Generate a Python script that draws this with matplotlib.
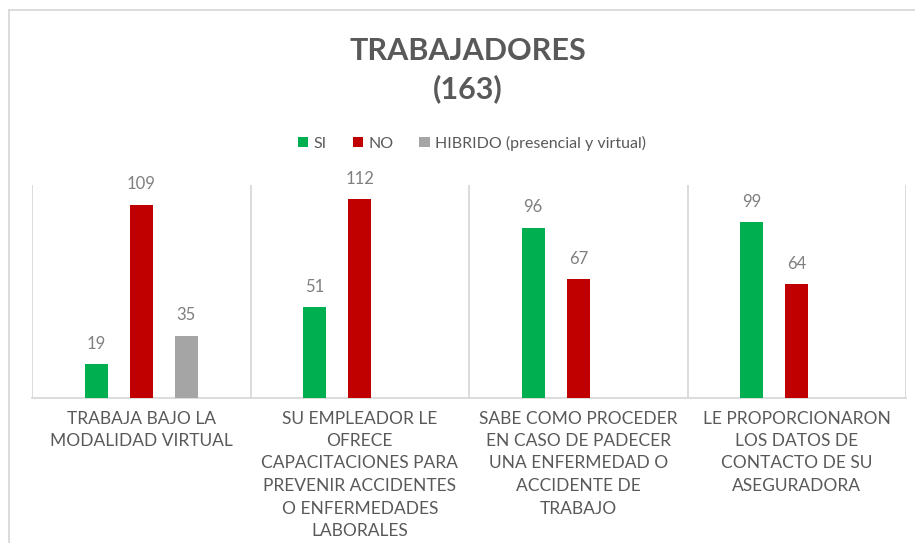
import numpy as np
import matplotlib.pyplot as plt
from matplotlib.patches import Patch
from matplotlib.lines import Line2D

plt.rcParams['font.family'] = ['Lato', 'DejaVu Sans']

# Data
categorias = [
    'TRABAJA BAJO LA\nMODALIDAD VIRTUAL',
    'SU EMPLEADOR LE\nOFRECE\nCAPACITACIONES PARA\nPREVENIR ACCIDENTES\nO ENFERMEDADES\nLABORALES',
    'SABE COMO PROCEDER\nEN CASO DE PADECER\nUNA ENFERMEDAD O\nACCIDENTE DE\nTRABAJO',
    'LE PROPORCIONARON\nLOS DATOS DE\nCONTACTO DE SU\nASEGURADORA',
]
si = [19, 51, 96, 99]
no = [109, 112, 67, 64]
hibrido = [35, np.nan, np.nan, np.nan]
series_names = ['SI', 'NO', 'HIBRIDO (presencial y virtual)']
colors = ['#00b050', '#c00000', '#a5a5a5']

text_gray = '#595959'
label_gray = '#7f7f7f'
line_gray = '#d9d9d9'

fig = plt.figure(figsize=(9.15, 5.43), dpi=100)
ax = fig.add_axes([32/915, 1 - 398/543, (906 - 32)/915, (398 - 185)/543])

x = np.arange(len(categorias))
width = 0.106
step = 0.206
for i, (vals, col) in enumerate(zip([si, no, hibrido], colors)):
    pos = x + (i - 1) * step
    bars = ax.bar(pos, vals, width, color=col, zorder=3)
    for b, v in zip(bars, vals):
        if np.isnan(v):
            continue
        ax.annotate(f'{v:g}', (b.get_x() + b.get_width() / 2, v),
                    xytext=(0, 9), textcoords='offset points',
                    ha='center', va='bottom', fontsize=12, color=label_gray)

ax.set_xlim(-0.5, len(categorias) - 0.5)
ax.set_ylim(0, 120)
ax.set_yticks([])
ax.set_xticks(x)
ax.set_xticklabels(categorias, fontsize=12.5, color=text_gray, linespacing=1.5)
ax.tick_params(axis='x', length=0, pad=9)
for s in ['top', 'right', 'left']:
    ax.spines[s].set_visible(False)
ax.spines['bottom'].set_color(line_gray)
ax.spines['bottom'].set_linewidth(1.3)

# category separators
for b in np.arange(-0.5, len(categorias), 1.0):
    ax.axvline(b, color=line_gray, lw=1.3, zorder=1)

fig.text(468/915, 1 - 70/543, 'TRABAJADORES\n(163)', ha='center', va='center',
         fontsize=22, fontweight='bold', color=text_gray, linespacing=1.35)

handles = [Patch(facecolor=c, edgecolor='none') for c in colors]
fig.legend(handles, series_names, loc='center', ncol=3,
           bbox_to_anchor=(472/915, 1 - 143/543), frameon=False,
           fontsize=11.5, labelcolor=text_gray, handlelength=0.65,
           handleheight=0.65, handletextpad=0.35, columnspacing=1.6)

# outer chart border (left and top visible)
fig.add_artist(Line2D([9/915, 9/915], [0, 1 - 10/543], color=line_gray, lw=1.3,
                      transform=fig.transFigure))
fig.add_artist(Line2D([9/915, 1], [1 - 10/543, 1 - 10/543], color=line_gray, lw=1.3,
                      transform=fig.transFigure))

fig.savefig('out.png', dpi=100)
